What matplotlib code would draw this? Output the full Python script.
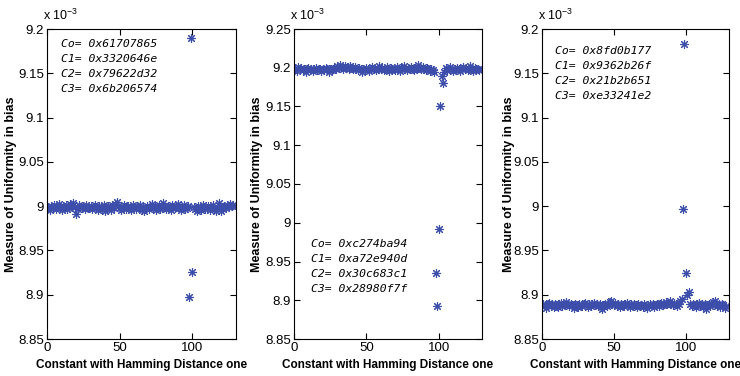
import matplotlib

matplotlib.use("Agg")
import matplotlib.pyplot as plt
import numpy as np

# x positions: constants with Hamming distance one (0..128)
x_vals = np.arange(129)

# measure of uniformity in bias (units of 1e-3)
bias_1 = [
    8.997, 8.999, 8.996, 9.000, 8.998, 9.001, 8.997, 8.999, 9.002, 8.998,
    8.996, 9.000, 8.999, 9.001, 8.997, 8.998, 9.002, 9.000, 9.003, 8.999,
    8.991, 8.997, 9.001, 8.999, 8.998, 9.000, 8.997, 9.001, 8.999, 8.998,
    9.000, 8.997, 8.999, 9.001, 8.998, 8.996, 9.000, 8.999, 8.997, 9.001,
    8.995, 8.998, 9.000, 8.999, 8.996, 9.001, 8.998, 9.002, 9.005, 9.000,
    8.998, 8.996, 8.999, 9.001, 8.997, 8.999, 9.000, 8.998, 8.996, 9.001,
    8.999, 8.997, 9.000, 8.998, 9.001, 8.996, 8.999, 8.994, 8.998, 9.000,
    8.997, 8.999, 9.002, 8.998, 9.000, 8.996, 8.999, 9.001, 8.997, 8.998,
    9.003, 8.999, 8.997, 9.000, 8.998, 8.996, 9.001, 8.999, 8.998, 9.000,
    9.002, 8.998, 8.996, 8.999, 9.001, 8.997, 8.998, 9.000, 8.897, 9.190,
    8.926, 8.999, 8.997, 8.995, 9.000, 8.998, 8.996, 9.001, 8.999, 8.997,
    8.998, 9.000, 8.996, 8.999, 9.001, 8.997, 8.995, 8.998, 9.003, 8.999,
    8.994, 8.997, 9.000, 8.998, 9.001, 8.999, 9.002, 9.000, 9.001,
]
bias_2 = [
    9.197, 9.199, 9.196, 9.201, 9.198, 9.200, 9.197, 9.199, 9.195, 9.198,
    9.200, 9.197, 9.199, 9.196, 9.198, 9.200, 9.197, 9.199, 9.198, 9.196,
    9.199, 9.197, 9.200, 9.198, 9.195, 9.199, 9.197, 9.198, 9.200, 9.199,
    9.202, 9.200, 9.203, 9.201, 9.199, 9.202, 9.200, 9.201, 9.199, 9.202,
    9.200, 9.198, 9.201, 9.199, 9.197, 9.200, 9.198, 9.195, 9.199, 9.197,
    9.200, 9.198, 9.196, 9.199, 9.201, 9.198, 9.200, 9.197, 9.199, 9.202,
    9.198, 9.200, 9.197, 9.199, 9.201, 9.198, 9.196, 9.200, 9.198, 9.199,
    9.197, 9.201, 9.199, 9.196, 9.200, 9.198, 9.202, 9.199, 9.197, 9.200,
    9.198, 9.201, 9.199, 9.197, 9.200, 9.198, 9.203, 9.200, 9.198, 9.201,
    9.199, 9.197, 9.200, 9.198, 9.196, 9.199, 9.197, 9.195, 8.935, 8.893,
    8.992, 9.151, 9.190, 9.180, 9.194, 9.200, 9.197, 9.199, 9.201, 9.198,
    9.196, 9.199, 9.197, 9.200, 9.198, 9.196, 9.199, 9.201, 9.198, 9.200,
    9.197, 9.199, 9.202, 9.198, 9.196, 9.200, 9.198, 9.199, 9.197,
]
bias_3 = [
    8.887, 8.890, 8.888, 8.885, 8.889, 8.891, 8.887, 8.889, 8.886, 8.890,
    8.888, 8.886, 8.889, 8.891, 8.887, 8.890, 8.888, 8.892, 8.889, 8.887,
    8.890, 8.888, 8.885, 8.889, 8.887, 8.886, 8.890, 8.888, 8.887, 8.889,
    8.891, 8.888, 8.886, 8.890, 8.887, 8.889, 8.891, 8.888, 8.890, 8.887,
    8.889, 8.886, 8.884, 8.888, 8.890, 8.887, 8.889, 8.892, 8.893, 8.890,
    8.888, 8.891, 8.887, 8.889, 8.886, 8.890, 8.888, 8.887, 8.889, 8.891,
    8.888, 8.886, 8.890, 8.887, 8.889, 8.888, 8.886, 8.890, 8.887, 8.888,
    8.886, 8.889, 8.887, 8.885, 8.888, 8.890, 8.887, 8.889, 8.886, 8.888,
    8.890, 8.887, 8.889, 8.891, 8.888, 8.890, 8.892, 8.889, 8.891, 8.893,
    8.890, 8.888, 8.891, 8.889, 8.887, 8.890, 8.893, 8.895, 8.997, 9.183,
    8.924, 8.900, 8.903, 8.889, 8.887, 8.890, 8.888, 8.886, 8.889, 8.891,
    8.887, 8.889, 8.886, 8.890, 8.884, 8.888, 8.890, 8.887, 8.889, 8.892,
    8.893, 8.890, 8.887, 8.889, 8.886, 8.890, 8.888, 8.885, 8.887,
]

constants_1 = ["Co= 0x61707865", "C1= 0x3320646e", "C2= 0x79622d32", "C3= 0x6b206574"]
constants_2 = ["Co= 0xc274ba94", "C1= 0xa72e940d", "C2= 0x30c683c1", "C3= 0x28980f7f"]
constants_3 = ["Co= 0x8fd0b177", "C1= 0x9362b26f", "C2= 0x21b2b651", "C3= 0xe33241e2"]

y_ticks_1 = [8.85, 8.9, 8.95, 9.0, 9.05, 9.1, 9.15, 9.2]
y_ticks_2 = [8.85, 8.9, 8.95, 9.0, 9.05, 9.1, 9.15, 9.2, 9.25]
y_ticks_3 = y_ticks_1
x_ticks = [0, 50, 100]

COLOR = "#3d4daa"
FIG_W, FIG_H = 740, 376


def fmt_tick(v):
    return f"{v:g}"


def draw_panel(fig, left_px, right_px, values, yticks, labels, text_pos, ylab_x):
    top_px, bottom_px = 29, 339
    ax = fig.add_axes([
        left_px / FIG_W,
        (FIG_H - bottom_px) / FIG_H,
        (right_px - left_px) / FIG_W,
        (bottom_px - top_px) / FIG_H,
    ])
    ax.plot(x_vals, values, linestyle="none", marker=(8, 2, 0),
            markersize=6.5, markeredgewidth=0.8, color=COLOR)
    ax.set_xlim(0, 130)
    ax.set_ylim(yticks[0], yticks[-1])
    ax.set_xticks(x_ticks)
    ax.set_xticklabels([str(t) for t in x_ticks])
    ax.set_yticks(yticks)
    ax.set_yticklabels([fmt_tick(t) for t in yticks])
    ax.tick_params(direction="in", top=True, right=True, length=4,
                   width=0.8, labelsize=9.5, pad=2)
    for s in ax.spines.values():
        s.set_linewidth(0.8)

    ax.set_xlabel("Constant with Hamming Distance one", fontsize=8.5,
                  fontweight="bold")
    ax.xaxis.set_label_coords(0.5, -0.066)
    ax.set_ylabel("Measure of Uniformity in bias", fontsize=9,
                  fontweight="bold")
    ax.yaxis.set_label_coords(ylab_x, 0.5)

    ax.text(-0.02, 1.018, r"x 10$^{-3}$", transform=ax.transAxes,
            ha="left", va="bottom", fontsize=9)

    tx, ty = text_pos
    for i, line in enumerate(labels):
        ax.text(tx, ty - i * 0.048, line, transform=ax.transAxes,
                ha="left", va="center", fontsize=8.2,
                family="DejaVu Sans Mono", style="italic")
    return ax


plt.rcParams["font.family"] = ["Liberation Sans", "DejaVu Sans"]
plt.rcParams["mathtext.fontset"] = "custom"
plt.rcParams["mathtext.rm"] = "Liberation Sans"

fig = plt.figure(figsize=(FIG_W / 100, FIG_H / 100), dpi=100)
draw_panel(fig, 47, 236, bias_1, y_ticks_1, constants_1, (0.074, 0.952), -0.16)
draw_panel(fig, 294, 482, bias_2, y_ticks_2, constants_2, (0.09, 0.306), -0.165)
draw_panel(fig, 542, 729, bias_3, y_ticks_3, constants_3, (0.07, 0.929), -0.145)

fig.savefig("out.png", dpi=100)
